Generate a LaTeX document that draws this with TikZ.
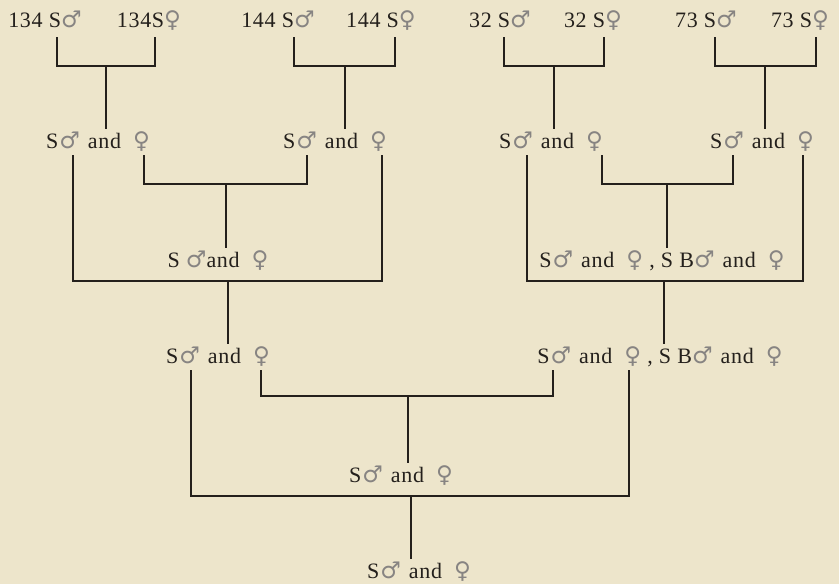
\documentclass[tikz,border=0pt]{standalone}
\usepackage{fontspec}
\setmainfont[LetterSpace=3]{Liberation Serif}
\newfontfamily\symfont{DejaVu Sans}
\definecolor{paper}{RGB}{237,229,203}
\definecolor{ink}{RGB}{36,32,28}
\newcommand\msym{{\symfont\fontsize{23}{23}\selectfont\textcolor{ink!55}{♂}}}
\newcommand\fsym{{\symfont\fontsize{23}{23}\selectfont\textcolor{ink!55}{♀}}}
\newcommand\sandf{S\kern1pt\msym\hspace{8pt}and\hspace{12pt}\fsym}
\begin{document}
\begin{tikzpicture}[x=1pt,y=-1pt,font=\fontsize{22}{26}\selectfont,line cap=butt]
	\tikzset{every node/.style={inner sep=0pt,anchor=base,text=ink},
		link/.style={ink,line width=1.8pt}}
	\fill[paper] (0,0) rectangle (839,584);
	\useasboundingbox (0,0) rectangle (839,584);
	\node (t1) at (45,27) {134 S\msym};
	\node (t2) at (149,27) {134S\fsym};
	\node (t3) at (278,27) {144 S\msym};
	\node (t4) at (381,27) {144 S\fsym};
	\node (t5) at (500,27) {32 S\msym};
	\node (t6) at (593,27) {32 S\fsym};
	\node (t7) at (706,27) {73 S\msym};
	\node (t8) at (800,27) {73 S\fsym};
	\foreach \n/\x in {1/98,2/335,3/551,4/762}
		\node (r\n) at (\x,148) {\sandf};
	\node (s1) at (218,267) {S \msym and\hspace{12pt}\fsym};
	\node (s2) at (662,267) {\sandf\ , S B\msym\hspace{8pt}and\hspace{12pt}\fsym};
	\node (q1) at (218,363) {\sandf};
	\node (q2) at (660,363) {\sandf\ , S B\msym\hspace{8pt}and\hspace{12pt}\fsym};
	\node (w) at (401,482) {\sandf};
	\node (z) at (419,578) {\sandf};
	\foreach \n/\l/\r/\m in {1/57/155/106,2/294/395/345,3/504/604/554,4/715/816/765}{
		\coordinate (u\n) at (\l,37);
		\coordinate (v\n) at (\r,37);
		\coordinate (j\n) at (\m,66);
	}
	\foreach \n/\l/\r in {1/73/144,2/307/382,3/527/602,4/733/803}{
		\coordinate (a\n) at (\l,155);
		\coordinate (b\n) at (\r,155);
	}
	\coordinate (k1) at (226,184);
	\coordinate (k2) at (667,184);
	\coordinate (o1) at (228,281);
	\coordinate (o2) at (664,281);
	\coordinate (c1) at (191,370);
	\coordinate (d1) at (261,370);
	\coordinate (c2) at (553,370);
	\coordinate (d2) at (629,370);
	\coordinate (k3) at (408,396);
	\coordinate (o3) at (411,496);
	\foreach \n in {1,...,4}{
		\draw[link] (u\n) |- (j\n) -| (v\n);
		\draw[link,shorten >=2pt] (j\n) -- (j\n |- r\n.north);
	}
	\draw[link] (b1) |- (k1) -| (a2);
	\draw[link] (b3) |- (k2) -| (a4);
	\draw[link] (a1) |- (o1) -| (b2);
	\draw[link] (a3) |- (o2) -| (b4);
	\draw[link] (d1) |- (k3) -| (c2);
	\draw[link] (c1) |- (o3) -| (d2);
	\foreach \k/\m in {k1/s1,k2/s2,o1/q1,o2/q2,k3/w,o3/z}
		\draw[link,shorten >=2pt] (\k) -- (\k |- \m.north);
\end{tikzpicture}
\end{document}
